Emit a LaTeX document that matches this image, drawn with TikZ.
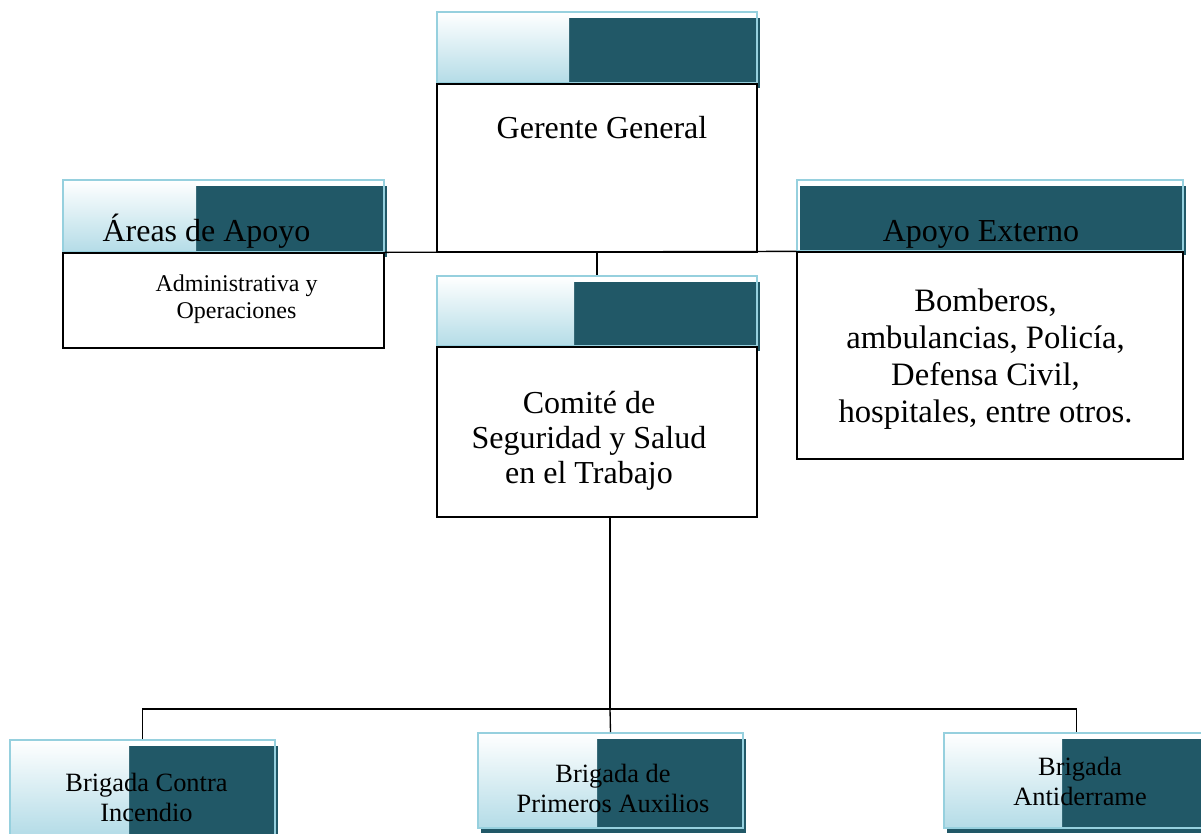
\documentclass[tikz,border=0pt]{standalone}
\usepackage{fontspec}
\setmainfont{Liberation Serif}
\usetikzlibrary{fit}
\definecolor{darkteal}{RGB}{33,88,103}
\definecolor{outlineblue}{RGB}{150,208,222}
\definecolor{gradblue}{RGB}{180,220,231}
\pgfdeclarelayer{bg}
\pgfsetlayers{bg,main}
\tikzset{
  conn/.style={draw=black, line width=1pt},
  body/.style={draw=black, line width=1pt, fill=white, inner sep=0pt},
  hdrbox/.style={draw=outlineblue, line width=1.3pt, inner sep=0pt},
  txt/.style={align=center, anchor=base, inner sep=0pt},
  bigtxt/.style={txt, font=\fontsize{24}{26.25}\selectfont},
  exttxt/.style={txt, font=\fontsize{24.5}{27.75}\selectfont},
  smalltxt/.style={txt, font=\fontsize{18}{20.25}\selectfont},
  brigtxt/.style={txt, font=\fontsize{19.8}{22.5}\selectfont},
}
\newcommand\mkhdr[6]{%
  \node[hdrbox, fit={(#2,#3) (#4,#5)}] (#1) {};
  \begin{pgfonlayer}{bg}
    \fill[darkteal] (#2+2.5,#3+5.5) rectangle (#4+2.5,#5+4.5);
    \shade[top color=white, bottom color=gradblue] (#2,#3) rectangle (#6,#5);
  \end{pgfonlayer}}
\begin{document}
\begin{tikzpicture}[x=0.75pt,y=-0.75pt]
\useasboundingbox (0,0) rectangle (1201,833);
\clip (0,0) rectangle (1201,833);

% Gerente General
\mkhdr{gerhdr}{437}{12}{757}{83}{569}
\node[body, fit={(437,84) (757,252)}] (gerente) {};
\node[bigtxt] (gertxt) at (602,138) {Gerente General};

% Areas de Apoyo
\mkhdr{areashdr}{63}{180}{384}{252}{196}
\node[body, fit={(63,253) (384,348)}] (areas) {};
\node[bigtxt] (areastitle) at (206.5,241) {Áreas de Apoyo};
\node[smalltxt] (areastxt) at (236.5,318) {Administrativa y\\Operaciones};

% Apoyo Externo
\node[hdrbox, fit={(797,180) (1183,251)}] (exthdr) {};
\begin{pgfonlayer}{bg}
  \fill[darkteal] (799.5,185.5) rectangle (1185.5,255);
\end{pgfonlayer}
\node[body, fit={(797,252) (1183,459)}] (externo) {};
\node[bigtxt] (exttitle) at (981,241) {Apoyo Externo};
\node[exttxt] (exttxt) at (985.5,422) {Bomberos,\\ambulancias, Policía,\\Defensa Civil,\\hospitales, entre otros.};

% Comite
\mkhdr{comhdr}{437}{276}{757}{346}{574}
\node[body, fit={(437,347) (757,517)}] (comite) {};
\node[bigtxt] (comtxt) at (589,483) {Comité de\\Seguridad y Salud\\en el Trabajo};

% Brigadas
\mkhdr{bone}{10}{740}{275}{835}{129}
\mkhdr{btwo}{478}{733}{743}{828}{597}
\mkhdr{bthree}{944}{733}{1209}{828}{1062}
\node[brigtxt] (bonetxt) at (146.5,821) {Brigada Contra\\Incendio};
\node[brigtxt] (btwotxt) at (613,812) {Brigada de\\Primeros Auxilios};
\node[brigtxt] (bthreetxt) at (1080,805) {Brigada\\Antiderrame};

% connectors
\coordinate (bus) at (610,709);
\draw[conn] (areas.north east) -- (externo.north west);
\draw[conn] (gerente.south) -- (comhdr.north);
\draw[conn] (comite.south -| bus) -- (bus);
\draw[conn] (bone.north) |- (bus) -| (bthree.north);
\draw[conn] (bus) -- (btwo.north);
\end{tikzpicture}
\end{document}
